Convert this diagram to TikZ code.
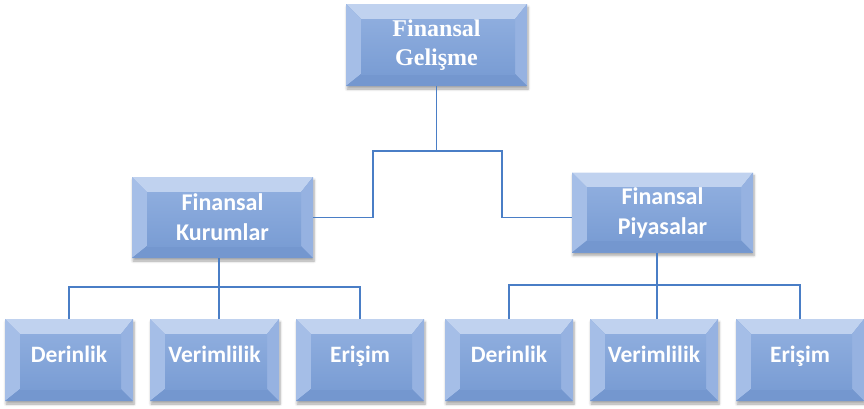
\documentclass[tikz,border=0pt]{standalone}
\usepackage{fontspec}
\setmainfont{Liberation Serif}
\newfontfamily\carlfont{Carlito}
\usetikzlibrary{shadows.blur,calc}
\definecolor{linec}{RGB}{74,126,198}
\definecolor{faceT}{RGB}{142,173,222}
\definecolor{faceB}{RGB}{122,157,212}
\definecolor{bevT}{RGB}{192,210,239}
\definecolor{bevL}{RGB}{165,190,231}
\definecolor{bevR}{RGB}{150,178,225}
\definecolor{bevB}{RGB}{116,151,207}
\tikzset{
  bevbox/.style 2 args={minimum width=#1, minimum height=#2, inner sep=0pt,
    fill=faceB, text=white,
    blur shadow={shadow xshift=1pt, shadow yshift=-3pt, shadow blur steps=6,
      shadow opacity=35, shadow blur radius=2.5pt},
    path picture={
      \coordinate (ppA) at (path picture bounding box.north west);
      \coordinate (ppB) at (path picture bounding box.south east);
      \coordinate (ppI) at ([shift={(15pt,-15pt)}]ppA);
      \coordinate (ppJ) at ([shift={(-12pt,12pt)}]ppB);
      \fill[bevT] (ppA) -- (ppB |- ppA) -- (ppJ |- ppI) -- (ppI) -- cycle;
      \fill[bevL] (ppA) -- (ppI) -- (ppI |- ppJ) -- (ppA |- ppB) -- cycle;
      \fill[bevR] (ppB |- ppA) -- (ppB) -- (ppJ) -- (ppJ |- ppI) -- cycle;
      \fill[bevB] (ppA |- ppB) -- (ppB) -- (ppJ) -- (ppI |- ppJ) -- cycle;
      \shade[top color=faceT, bottom color=faceB] (ppI) rectangle (ppJ);
    }},
  topfont/.style={font=\bfseries\fontsize{24}{29}\selectfont, align=center},
  midfont/.style={font=\carlfont\bfseries\fontsize{24}{30}\selectfont, align=center},
  lowfont/.style={font=\carlfont\bfseries\fontsize{23.5}{28}\selectfont,
    text height=16pt, text depth=12pt},
  conn/.style={draw=linec, line width=1.2pt}
}
\begin{document}
\begin{tikzpicture}[x=1pt,y=-1pt]
\useasboundingbox (0,0) rectangle (864,408);
\node[bevbox={181pt}{82pt}, topfont] (g) at (436.5,45) {Finansal\\Gelişme};
\node[bevbox={181pt}{81pt}, midfont] (k) at (222.5,217.5) {Finansal\\Kurumlar};
\node[bevbox={181pt}{80pt}, midfont] (p) at (662.5,212.5) {Finansal\\Piyasalar};
\node[bevbox={128pt}{82pt}, lowfont] (d1) at (69,360) {Derinlik};
\node[bevbox={129pt}{82pt}, lowfont] (v1) at (214.5,360) {Verimlilik};
\node[bevbox={128pt}{82pt}, lowfont] (e1) at (360,360) {Erişim};
\node[bevbox={128pt}{82pt}, lowfont] (d2) at (509,360) {Derinlik};
\node[bevbox={128pt}{82pt}, lowfont] (v2) at (654,360) {Verimlilik};
\node[bevbox={128pt}{82pt}, lowfont] (e2) at (800,360) {Erişim};
\coordinate (gl) at (373,151);
\coordinate (gr) at (502,151);
\coordinate (kj) at (219,287);
\coordinate (pj) at (657,285);
\draw[conn] (g.south) -- (g.south |- gl);
\draw[conn] (k.east) -| (gl) -- (gr) |- (p.west |- k.east);
\draw[conn] (kj |- k.south) -- (kj |- v1.north);
\draw[conn] (d1.north) |- (kj) -| (e1.north);
\draw[conn] (pj |- p.south) -- (pj |- v2.north);
\draw[conn] (d2.north) |- (pj) -| (e2.north);
\end{tikzpicture}
\end{document}
